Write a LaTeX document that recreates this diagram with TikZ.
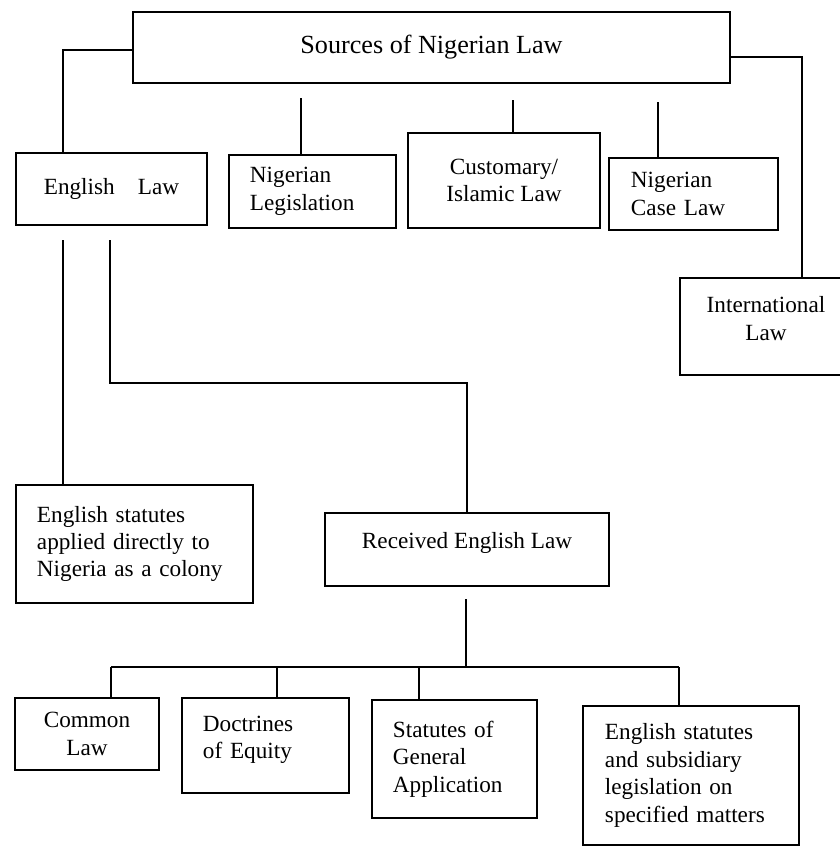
\documentclass[tikz,border=0pt]{standalone}
\usepackage{fontspec}
\setmainfont{Liberation Serif}

\tikzset{
	lawbox/.style={draw, line width=2pt, inner sep=0pt, align=center, font=\fontsize{16.5}{19.5}\selectfont},
	lawtext/.style={lawbox, align=left},
	link/.style={line width=2pt},
}

\begin{document}
\begin{tikzpicture}[x=0.025cm, y=-0.025cm]
		\useasboundingbox (0, 0) rectangle (840, 848);
		\clip (0, 0) rectangle (840, 848);

		% top row
		\node[lawbox, minimum width=14.925cm, minimum height=1.775cm, font=\fontsize{18.6}{22}\selectfont] (src) at (431.5, 47.5) {Sources of Nigerian Law};
		\node[lawbox, minimum width=4.775cm, minimum height=1.8cm] (eng) at (111.5, 189) {English\quad Law};
		\node[lawtext, minimum width=4.175cm, minimum height=1.825cm, text width=3.125cm] (leg) at (312.5, 191.5) {Nigerian\\Legislation};
		\node[lawbox, minimum width=4.8cm, minimum height=2.375cm] (cus) at (504, 180.5) {Customary/\\Islamic Law};
		\node[lawtext, minimum width=4.225cm, minimum height=1.8cm, text width=3.125cm] (cas) at (693.5, 194) {Nigerian\\Case Law};
		\node[lawbox, minimum width=4.3cm, minimum height=2.425cm, text depth=0.4cm] (intl) at (766, 326.5) {International\\Law};

		% middle row
		\node[lawtext, minimum width=5.925cm, minimum height=2.95cm, text width=4.875cm] (est) at (134.5, 544) {English statutes\\applied directly to\\Nigeria as a colony};
		\node[lawbox, minimum width=7.1cm, minimum height=1.825cm, text depth=0.45cm] (rec) at (467, 549.5) {Received English Law};

		% bottom row
		\node[lawbox, minimum width=3.6cm, minimum height=1.8cm] (com) at (87, 734) {Common\\Law};
		\node[lawtext, minimum width=4.175cm, minimum height=2.375cm, text width=3.125cm, text depth=1.1cm] (doc) at (265.5, 745.5) {Doctrines\\of Equity};
		\node[lawtext, minimum width=4.125cm, minimum height=2.95cm, text width=3.075cm] (sga) at (454.5, 759) {Statutes of\\General\\Application};
		\node[lawtext, minimum width=5.4cm, minimum height=3.475cm, text width=4.3cm] (ess) at (691, 775.5) {English statutes\\and subsidiary\\legislation on\\specified matters};

		% free ends of the connectors
		\coordinate (engtop) at (63, 153);
		\coordinate (legtop) at (301, 98);
		\coordinate (custop) at (513, 100);
		\coordinate (castop) at (658, 102);
		\coordinate (intlbend) at (802, 57);
		\coordinate (estdrop) at (63, 240);
		\coordinate (recdrop) at (110, 240);
		\coordinate (recbend) at (467, 383);
		\coordinate (recfoot) at (466, 599);
		\coordinate (bus1) at (111, 667);
		\coordinate (bus2) at (277, 667);
		\coordinate (bus3) at (419, 667);
		\coordinate (bus4) at (679, 667);

		\draw[link]	(src.west |- 0, 50) -| (engtop);
		\draw[link]	(legtop) -- (legtop |- leg.north);
		\draw[link]	(custop) -- (custop |- cus.north);
		\draw[link]	(castop) -- (castop |- cas.north);
		\draw[link]	(intlbend -| src.east) -- (intlbend) -- (intlbend |- intl.north);

		\draw[link]	(estdrop) -- (estdrop |- est.north);
		\draw[link]	(recdrop) |- (recbend) -- (rec.north);

		\draw[link]	(recfoot) -- (recfoot |- bus1);
		\draw[link]	(bus1) -- (bus4);
		\draw[link]	(bus1) -- (bus1 |- com.north);
		\draw[link]	(bus2) -- (bus2 |- doc.north);
		\draw[link]	(bus3) -- (bus3 |- sga.north);
		\draw[link]	(bus4) -- (bus4 |- ess.north);
	\end{tikzpicture}
\end{document}
